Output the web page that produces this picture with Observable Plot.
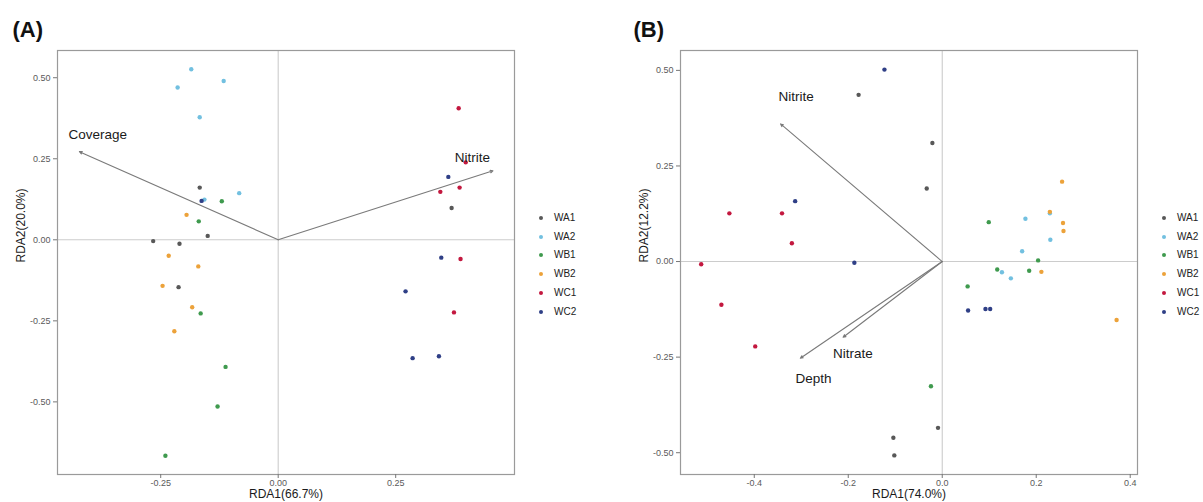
<!DOCTYPE html>
<html>
<head>
<meta charset="utf-8">
<script src="https://cdn.jsdelivr.net/npm/d3@7"></script>
<script src="https://cdn.jsdelivr.net/npm/@observablehq/plot@0.6"></script>
<style>
  html, body { margin: 0; padding: 0; background: #fff; }
  #root { position: relative; width: 1203px; height: 502px; overflow: hidden; font-family: "Liberation Sans", Arial, sans-serif; }
  .panel { position: absolute; top: 0; }
  .legend { position: absolute; font-size: 10px; color: #222; }
  .legend .item { position: absolute; left: 0; height: 12px; line-height: 12px; white-space: nowrap; }
  .legend .sw { position: absolute; left: 0; top: 4px; width: 4px; height: 4px; border-radius: 50%; }
  .legend .lab { position: absolute; left: 15px; top: 0; }
</style>
</head>
<body>
<div id="root"></div>
<script>
// ---------- shared ----------
const groups  = ["WA1", "WA2", "WB1", "WB2", "WC1", "WC2"];
const palette = ["#585858", "#72c0e0", "#3f9a4e", "#eca23a", "#c3183f", "#2f3f86"];

// ---------- panel A ----------
const aTitle  = "(A)";
const aXLabel = "RDA1(66.7%)";
const aYLabel = "RDA2(20.0%)";
const aXTicks = [-0.25, 0, 0.25];
const aYTicks = [-0.5, -0.25, 0, 0.25, 0.5];
const aGroup = [
  "WA1","WA1","WA1","WA1","WA1","WA1",
  "WA2","WA2","WA2","WA2","WA2","WA2",
  "WB1","WB1","WB1","WB1","WB1","WB1",
  "WB2","WB2","WB2","WB2","WB2","WB2",
  "WC1","WC1","WC1","WC1","WC1","WC1",
  "WC2","WC2","WC2","WC2","WC2","WC2"
];
const aRDA1 = [
  -0.167, -0.266, -0.210, -0.150, -0.212, 0.369,
  -0.185, -0.214, -0.116, -0.167, -0.157, -0.083,
  -0.120, -0.169, -0.165, -0.112, -0.129, -0.240,
  -0.195, -0.233, -0.170, -0.246, -0.183, -0.221,
   0.384,  0.399,  0.345,  0.386,  0.388, 0.374,
  -0.163,  0.362,  0.347,  0.271,  0.286, 0.342
];
const aRDA2 = [
   0.161, -0.004, -0.012,  0.012, -0.146,  0.098,
   0.526,  0.470,  0.490,  0.378,  0.124,  0.144,
   0.119,  0.057, -0.227, -0.392, -0.514, -0.666,
   0.077, -0.049, -0.082, -0.142, -0.208, -0.282,
   0.406,  0.239,  0.148,  0.161, -0.059, -0.224,
   0.120,  0.194, -0.055, -0.159, -0.365, -0.359
];
const aVars   = ["Coverage", "Nitrite"];
const aVarX   = [-0.423, 0.457];
const aVarY   = [0.272, 0.213];
const aLabX   = [-0.384, 0.413];
const aLabY   = [0.325, 0.254];

// ---------- panel B ----------
const bTitle  = "(B)";
const bXLabel = "RDA1(74.0%)";
const bYLabel = "RDA2(12.2%)";
const bXTicks = [-0.4, -0.2, 0, 0.2, 0.4];
const bYTicks = [-0.5, -0.25, 0, 0.25, 0.5];
const bGroup = aGroup;
const bRDA1 = [
  -0.178, -0.021, -0.033, -0.104, -0.102, -0.009,
   0.177,  0.230,  0.170,  0.127,  0.146,  0.229,
   0.099,  0.204,  0.117,  0.185,  0.054, -0.024,
   0.255,  0.229,  0.257,  0.258,  0.211,  0.371,
  -0.453, -0.341, -0.320, -0.513, -0.470, -0.398,
  -0.123, -0.313, -0.187,  0.055,  0.092,  0.102
];
const bRDA2 = [
   0.436,  0.310,  0.191, -0.461, -0.507, -0.435,
   0.112,  0.057,  0.027, -0.028, -0.044,  0.126,
   0.103,  0.003, -0.021, -0.024, -0.065, -0.326,
   0.209,  0.130,  0.101,  0.080, -0.027, -0.153,
   0.126,  0.126,  0.048, -0.007, -0.113, -0.222,
   0.502,  0.158, -0.003, -0.128, -0.124, -0.124
];
const bVars = ["Nitrite", "Depth", "Nitrate"];
const bVarX = [-0.344, -0.302, -0.211];
const bVarY = [0.360, -0.253, -0.198];
const bLabX = [-0.311, -0.274, -0.190];
const bLabY = [0.430, -0.307, -0.241];

// ---------- drawing ----------
const font = "'Liberation Sans', Arial, Helvetica, sans-serif";

function panel(cfg) {
  const pts = cfg.group.map((g, i) => ({group: g, x: cfg.x[i], y: cfg.y[i]}));
  const vars = cfg.vars.map((v, i) => ({name: v, x: cfg.vx[i], y: cfg.vy[i], lx: cfg.lx[i], ly: cfg.ly[i]}));
  return Plot.plot({
    width: cfg.width,
    height: 502,
    marginLeft: cfg.ml,
    marginRight: cfg.mr,
    marginTop: 50,
    marginBottom: 28,
    style: {fontFamily: font, fontSize: "9px", color: "#5a5a5a", background: "transparent", overflow: "visible"},
    x: {domain: cfg.xdom},
    y: {domain: cfg.ydom},
    color: {domain: groups, range: palette},
    marks: [
      Plot.ruleX([0], {stroke: "#cccccc", strokeWidth: 1.1}),
      Plot.ruleY([0], {stroke: "#cccccc", strokeWidth: 1.1}),
      Plot.frame({stroke: "#9a9a9a", strokeWidth: 1.2}),
      Plot.axisX({ticks: cfg.xticks, tickFormat: cfg.xfmt, tickSize: 4, tickPadding: 1, label: null, stroke: "#777"}),
      Plot.axisY({ticks: cfg.yticks, tickFormat: d => d.toFixed(2), tickSize: 4, tickPadding: 3, label: null, stroke: "#777"}),
      Plot.dot(pts, {x: "x", y: "y", fill: "group", r: 2.2, stroke: null}),
      Plot.arrow(vars, {x1: () => 0, y1: () => 0, x2: "x", y2: "y", stroke: "#7a7a7a", strokeWidth: 1.1, headLength: 4, headAngle: 50}),
      Plot.text(vars, {x: "lx", y: "ly", text: "name", fontSize: 13.5, fill: "#1a1a1a"}),
      Plot.text([cfg.xlabel], {frameAnchor: "bottom", lineAnchor: "middle", dy: 20, fontSize: 12, fill: "#1a1a1a"}),
      Plot.text([cfg.ylabel], {frameAnchor: "left", lineAnchor: "middle", rotate: -90, dx: -36, fontSize: 12, fill: "#1a1a1a"}),
      Plot.text([cfg.title], {frameAnchor: "top-left", lineAnchor: "middle", textAnchor: "start", dx: cfg.tdx, dy: -21, fontSize: 22, fontWeight: "bold", fill: "#111"})
    ]
  });
}

const root = document.getElementById("root");

function addPanel(cfg, left, legendLeft) {
  const wrap = document.createElement("div");
  wrap.className = "panel";
  wrap.style.left = left + "px";
  wrap.appendChild(panel(cfg));
  root.appendChild(wrap);
  const lg = document.createElement("div");
  lg.className = "legend";
  lg.style.left = legendLeft + "px";
  lg.style.top = "212px";
  groups.forEach((g, i) => {
    const it = document.createElement("div");
    it.className = "item";
    it.style.top = (i * 18.7) + "px";
    const sw = document.createElement("span");
    sw.className = "sw";
    sw.style.background = palette[i];
    const lab = document.createElement("span");
    lab.className = "lab";
    lab.textContent = g;
    it.appendChild(sw);
    it.appendChild(lab);
    lg.appendChild(it);
  });
  root.appendChild(lg);
}

addPanel({
  width: 600, ml: 57, mr: 86,
  xdom: [-0.4696, 0.5028], ydom: [-0.724, 0.584],
  xticks: aXTicks, yticks: aYTicks, xfmt: d => d.toFixed(2),
  group: aGroup, x: aRDA1, y: aRDA2,
  vars: aVars, vx: aVarX, vy: aVarY, lx: aLabX, ly: aLabY,
  xlabel: aXLabel, ylabel: aYLabel, title: aTitle, tdx: -45
}, 0, 539);

addPanel({
  width: 603, ml: 80, mr: 66,
  xdom: [-0.557, 0.4155], ydom: [-0.557, 0.552],
  xticks: bXTicks, yticks: bYTicks, xfmt: d => d.toFixed(1),
  group: bGroup, x: bRDA1, y: bRDA2,
  vars: bVars, vx: bVarX, vy: bVarY, lx: bLabX, ly: bLabY,
  xlabel: bXLabel, ylabel: bYLabel, title: bTitle, tdx: -47
}, 600, 1162);
</script>
</body>
</html>
